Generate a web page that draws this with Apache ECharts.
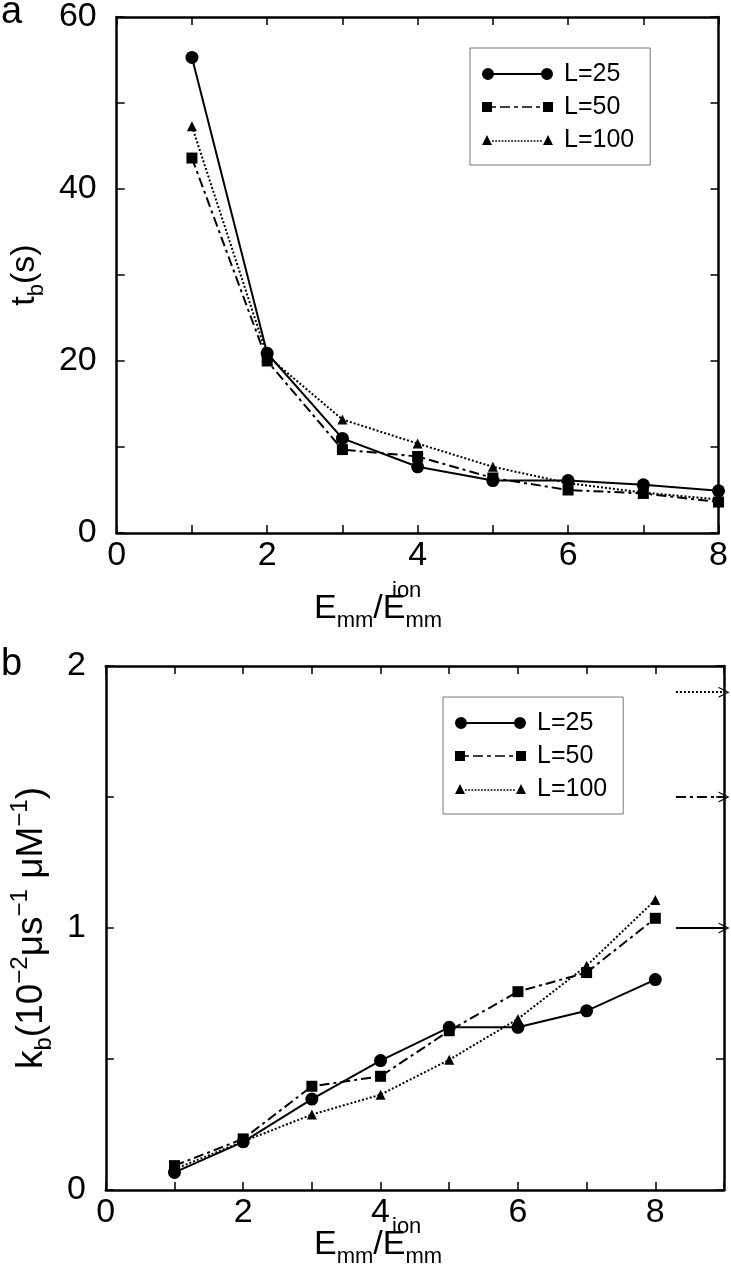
<!DOCTYPE html>
<html>
<head>
<meta charset="utf-8">
<script src="https://cdn.jsdelivr.net/npm/echarts@6/dist/echarts.min.js"></script>
<style>
html,body{margin:0;padding:0;background:#fff;}
#chart{width:731px;height:1280px;}
</style>
</head>
<body>
<div id="chart"></div>
<script>
// ---- data ----
const ratioX = [1, 2, 3, 4, 5, 6, 7, 8];
const seriesNames = ['L=25', 'L=50', 'L=100'];
// panel a: t_b (s)
const tb25  = [55.3, 20.9, 11.0, 7.7, 6.1, 6.1, 5.6, 4.9];
const tb50  = [43.6, 20.0, 9.7, 8.9, 6.4, 5.0, 4.6, 3.6];
const tb100 = [47.3, 20.6, 13.2, 10.4, 7.7, 5.8, 4.7, 3.9];
// panel b: k_b (10^-2 us^-1 uM^-1)
const kb25  = [0.067, 0.184, 0.347, 0.494, 0.621, 0.621, 0.684, 0.803];
const kb50  = [0.093, 0.195, 0.396, 0.434, 0.608, 0.757, 0.830, 1.037];
const kb100 = [0.080, 0.185, 0.288, 0.364, 0.497, 0.653, 0.856, 1.107];
// limiting values (arrows at right of panel b), order L=25, L=50, L=100
const kbLimits = [1.0, 1.5, 1.9];
const arrowFromX = 8.3;
const arrowToX = 9;
// axis ticks
const xTicksA = [0, 2, 4, 6, 8];
const yTicksA = [0, 20, 40, 60];
const xTicksB = [0, 2, 4, 6, 8];
const yTicksB = [0, 1, 2];

// ---- styling helpers ----
const NARROW = '"Liberation Sans Narrow", "Arial Narrow", "Liberation Sans", sans-serif';
const SANS = '"Liberation Sans", Arial, sans-serif';
const dashA = [10, 4, 3, 4];
const dotA = [2, 2];

function pairs(xs, ys) { return xs.map((x, i) => [x, ys[i]]); }

function rectsAlong(x0, x1, yc, th, pattern) {
  let p = '', x = x0, k = 0;
  while (x < x1) {
    const len = pattern[k % pattern.length];
    const on = (k % 2 === 0);
    const xe = Math.min(x + len, x1);
    if (on) p += `M${x},${yc - th / 2} L${xe},${yc - th / 2} L${xe},${yc + th / 2} L${x},${yc + th / 2} Z `;
    x = xe; k++;
  }
  return p;
}
const iconCircle = 'path://M0,60 A60,60 0 1 1 120,60 A60,60 0 1 1 0,60 Z ' +
  rectsAlong(100, 610, 60, 18, [510, 0]) +
  'M590,60 A60,60 0 1 1 710,60 A60,60 0 1 1 590,60 Z';
const iconSquare = 'path://M0,10 L100,10 L100,110 L0,110 Z ' +
  rectsAlong(100, 610, 60, 16, [40, 40, 100, 40]) +
  'M610,10 L710,10 L710,110 L610,110 Z';
const iconTri = 'path://M0,110 L50,10 L100,110 Z ' +
  rectsAlong(100, 610, 70, 16, [18, 14]) +
  'M610,110 L660,10 L710,110 Z';
const chevron = 'path://M0,10 L5,0 L10,10 L8.8,10 L5,2.4 L1.2,10 Z';

const axisLineStyle = { color: '#000', width: 2.5 };
function baseX(grid, max, ticks, show) {
  return {
    type: 'value', gridIndex: grid, min: 0, max: max, interval: 1,
    axisLine: { show: true, onZero: false, lineStyle: axisLineStyle },
    axisTick: { show: true, inside: true, length: 8, lineStyle: { color: '#000', width: 1.5 } },
    axisLabel: show ? {
      show: true, margin: 6, color: '#000', fontSize: 34, fontFamily: NARROW,
      formatter: v => ticks.includes(v) ? String(v) : ''
    } : { show: false },
    splitLine: { show: false }
  };
}
function baseY(grid, max, step, ticks, show) {
  return {
    type: 'value', gridIndex: grid, min: 0, max: max, interval: step,
    axisLine: { show: true, onZero: false, lineStyle: axisLineStyle },
    axisTick: { show: true, inside: true, length: 8, lineStyle: { color: '#000', width: 1.5 } },
    axisLabel: show ? {
      show: true, margin: 20, color: '#000', fontSize: 34, fontFamily: NARROW,
      formatter: v => ticks.includes(v) ? String(v) : ''
    } : { show: false },
    splitLine: { show: false }
  };
}

const richMain = {
  m: { fontSize: 34, fontFamily: SANS, color: '#000', lineHeight: 46 },
  s: { fontSize: 22, fontFamily: SANS, color: '#000', lineHeight: 22, verticalAlign: 'bottom' },
  p: { fontSize: 22, fontFamily: SANS, color: '#000', lineHeight: 22, verticalAlign: 'top' }
};
const richK = {
  m: { fontSize: 37, fontFamily: SANS, color: '#000', lineHeight: 48 },
  s: { fontSize: 24, fontFamily: SANS, color: '#000', lineHeight: 24, verticalAlign: 'bottom' },
  p: { fontSize: 24, fontFamily: SANS, color: '#000', lineHeight: 24, verticalAlign: 'top' }
};

const styles = [
  { symbol: 'circle', symbolSize: 13, line: { type: 'solid', width: 2 }, icon: iconCircle },
  { symbol: 'rect', symbolSize: 11, line: { type: dashA, width: 2 }, icon: iconSquare },
  { symbol: 'triangle', symbolSize: 10, line: { type: dotA, width: 2 }, icon: iconTri }
];
const dataA = [tb25, tb50, tb100];
const dataB = [kb25, kb50, kb100];

const series = [];
seriesNames.forEach((name, i) => {
  series.push({
    name: name, type: 'line', xAxisIndex: 0, yAxisIndex: 0,
    data: pairs(ratioX, dataA[i]),
    symbol: styles[i].symbol, symbolSize: styles[i].symbolSize,
    itemStyle: { color: '#000' },
    lineStyle: Object.assign({ color: '#000' }, styles[i].line),
    silent: true, z: 3 - i
  });
});
seriesNames.forEach((name, i) => {
  series.push({
    name: name, type: 'line', xAxisIndex: 2, yAxisIndex: 2,
    data: pairs(ratioX, dataB[i]),
    symbol: styles[i].symbol, symbolSize: styles[i].symbolSize,
    itemStyle: { color: '#000' },
    lineStyle: Object.assign({ color: '#000' }, styles[i].line),
    silent: true, z: 3 - i,
    markLine: {
      silent: true, animation: false,
      symbol: ['none', chevron], symbolSize: 11,
      label: { show: false },
      lineStyle: Object.assign({ color: '#000' }, styles[i].line),
      data: [[{ coord: [arrowFromX, kbLimits[i]] }, { coord: [arrowToX, kbLimits[i]] }]]
    }
  });
});

function legendAt(left, top) {
  return {
    show: true, orient: 'vertical', left: left, top: top,
    data: seriesNames.map((n, i) => ({ name: n, icon: styles[i].icon })),
    itemWidth: 71, itemHeight: 12, itemGap: 5,
    padding: [12, 16, 11, 12],
    borderColor: '#777', borderWidth: 1, backgroundColor: '#fff',
    selectedMode: false,
    itemStyle: { color: '#000' },
    textStyle: { fontSize: 25, fontFamily: SANS, color: '#000', lineHeight: 28, padding: [0, 0, 0, 6] }
  };
}

const xTitleRich = {
  m: { fontSize: 34, fontFamily: NARROW, color: '#000', lineHeight: 46 },
  s: { fontSize: 22, fontFamily: NARROW, color: '#000', lineHeight: 22, verticalAlign: 'bottom' }
};
function xTitle(left, top) {
  return [
    { type: 'text', left: left, top: top, silent: true,
      style: { text: '{m|E}{s|mm}{m|/E}{s|mm}', rich: xTitleRich } },
    { type: 'text', left: left + 78, top: top - 12, silent: true,
      style: { text: 'ion', fontSize: 22, fontFamily: NARROW, fill: '#000' } }
  ];
}

const option = {
  animation: false,
  backgroundColor: '#fff',
  grid: [
    { left: 97, top: 14, width: 627, height: 519 },
    { left: 97, top: 666, width: 627, height: 524 }
  ],
  xAxis: [
    baseX(0, 8, xTicksA, true),
    Object.assign(baseX(0, 8, xTicksA, false), { position: 'top' }),
    baseX(1, 9, xTicksB, true),
    Object.assign(baseX(1, 9, xTicksB, false), { position: 'top' })
  ],
  yAxis: [
    Object.assign(baseY(0, 60, 10, yTicksA, true), {
      name: '{m|t}{s|b}{m|(s)}', nameLocation: 'middle', nameRotate: 90, nameGap: 50,
      nameTextStyle: { rich: richMain }
    }),
    Object.assign(baseY(0, 60, 10, yTicksA, false), { position: 'right' }),
    Object.assign(baseY(1, 2, 0.5, yTicksB, true), {
      name: '{m|k}{s|b}{m|(10}{p|−2}{m|μs}{p|−1}{m| μM}{p|−1}{m|)}', nameLocation: 'middle', nameRotate: 90, nameGap: 48,
      nameTextStyle: { rich: richK }
    }),
    Object.assign(baseY(1, 2, 0.5, yTicksB, false), { position: 'right' })
  ],
  legend: [legendAt(470, 48), legendAt(443, 697)],
  graphic: [
    { type: 'text', left: 1, top: -6, silent: true, style: { text: 'a', fontSize: 38, fontFamily: NARROW, fill: '#000' } },
    { type: 'text', left: 1, top: 646, silent: true, style: { text: 'b', fontSize: 38, fontFamily: NARROW, fill: '#000' } }
  ].concat(xTitle(314, 592)).concat(xTitle(314, 1228)),
  series: series
};

const chart = echarts.init(document.getElementById('chart'), null, { renderer: 'canvas' });
chart.setOption(option);
</script>
</body>
</html>
